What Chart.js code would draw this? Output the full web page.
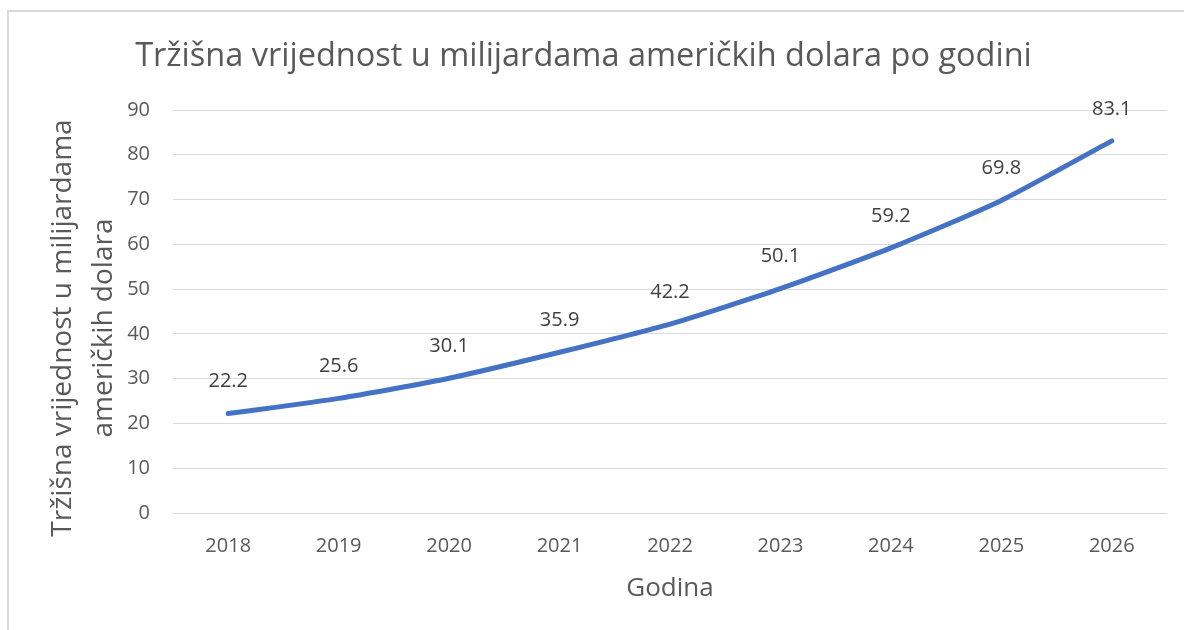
<!DOCTYPE html>
<html>
<head>
<meta charset="utf-8">
<script src="https://cdn.jsdelivr.net/npm/chart.js@4.4.0/dist/chart.umd.min.js"></script>
<style>
  html, body { margin: 0; padding: 0; background: #ffffff; }
  #wrap { position: relative; width: 1184px; height: 630px; }
</style>
</head>
<body>
<div id="wrap"><canvas id="c" width="1184" height="630"></canvas></div>
<script>
const years = ['2018', '2019', '2020', '2021', '2022', '2023', '2024', '2025', '2026'];
const marketValue = [22.2, 25.6, 30.1, 35.9, 42.2, 50.1, 59.2, 69.8, 83.1];
const yTicks = [0, 10, 20, 30, 40, 50, 60, 70, 80, 90];
const chartTitle = 'Tržišna vrijednost u milijardama američkih dolara po godini';
const yTitleLines = ['Tržišna vrijednost u milijardama', 'američkih dolara'];
const xTitle = 'Godina';

const FONT = "'Open Sans', 'Noto Sans', sans-serif";
const TXT = '#595959';

const frame = {
  id: 'frame',
  beforeDraw(chart) {
    const ctx = chart.ctx;
    ctx.save();
    ctx.strokeStyle = '#d9d9d9';
    ctx.lineWidth = 2;
    ctx.beginPath();
    ctx.moveTo(8, 640);
    ctx.lineTo(8, 11);
    ctx.lineTo(1190, 11);
    ctx.stroke();
    ctx.restore();
  }
};

const yTitlePlugin = {
  id: 'yTitle',
  afterDraw(chart) {
    const ctx = chart.ctx;
    ctx.save();
    ctx.fillStyle = TXT;
    ctx.font = '28px ' + FONT;
    ctx.textAlign = 'center';
    ctx.textBaseline = 'middle';
    const xs = [63, 104];
    yTitleLines.forEach((t, i) => {
      ctx.save();
      ctx.translate(xs[i], 328);
      ctx.rotate(-Math.PI / 2);
      ctx.fillText(t, 0, 0);
      ctx.restore();
    });
    ctx.restore();
  }
};

const labelPlugin = {
  id: 'pointLabels',
  afterDatasetsDraw(chart) {
    const ctx = chart.ctx;
    const meta = chart.getDatasetMeta(0);
    ctx.save();
    ctx.fillStyle = '#404040';
    ctx.font = '20px ' + FONT;
    ctx.textAlign = 'center';
    ctx.textBaseline = 'middle';
    meta.data.forEach((pt, i) => {
      ctx.fillText(marketValue[i].toFixed(1), pt.x, pt.y - 32);
    });
    ctx.restore();
  }
};

new Chart(document.getElementById('c'), {
  type: 'line',
  data: {
    labels: years,
    datasets: [{
      data: marketValue,
      borderColor: '#4472C4',
      borderWidth: 5,
      borderCapStyle: 'round',
      borderJoinStyle: 'round',
      pointRadius: 0,
      tension: 0.2,
      fill: false
    }]
  },
  options: {
    responsive: false,
    animation: false,
    devicePixelRatio: 1,
    layout: { padding: { left: 0, right: 17, top: 0, bottom: 0 } },
    plugins: {
      legend: { display: false },
      tooltip: { enabled: false },
      title: {
        display: true,
        text: chartTitle,
        color: TXT,
        font: { family: FONT, size: 32.5, weight: 'normal', lineHeight: 1.2 },
        padding: { top: 37.5, bottom: 33.5 }
      }
    },
    scales: {
      x: {
        offset: true,
        grid: { display: false, drawTicks: false },
        border: { display: false },
        ticks: { color: TXT, font: { family: FONT, size: 20 }, padding: 21, maxRotation: 0 },
        title: { display: true, text: xTitle, color: TXT, font: { family: FONT, size: 26, lineHeight: 1.2 }, padding: { top: 0, bottom: 26 } },
        afterFit(s) { s.height = 117; }
      },
      y: {
        min: 0,
        max: 90,
        afterBuildTicks(s) { s.ticks = yTicks.map(v => ({ value: v })); },
        grid: { color: '#d9d9d9', lineWidth: 1, drawTicks: false },
        border: { display: false },
        ticks: { color: TXT, font: { family: FONT, size: 20 }, padding: 23 },
        afterFit(s) { s.width = 173; }
      }
    }
  },
  plugins: [frame, yTitlePlugin, labelPlugin]
});
</script>
</body>
</html>
